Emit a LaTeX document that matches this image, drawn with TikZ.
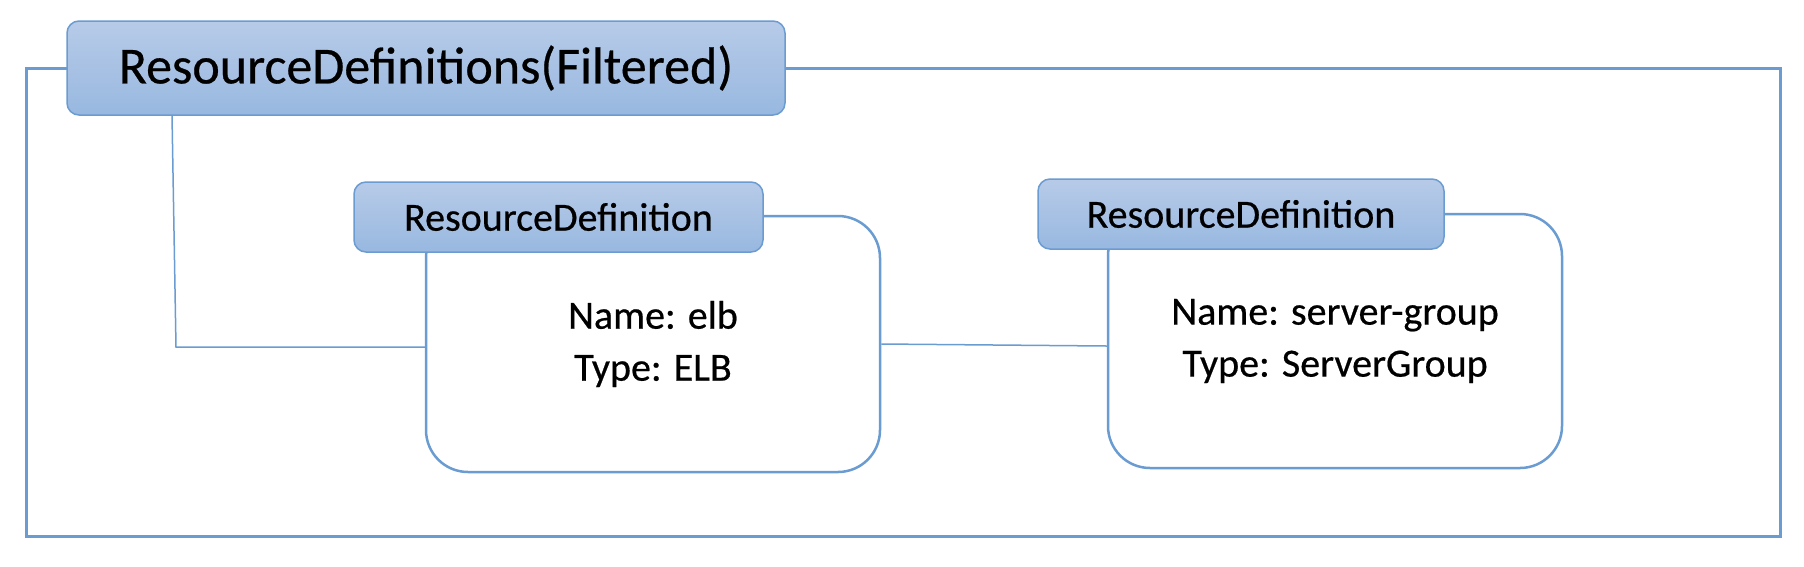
\documentclass[tikz,border=0pt]{standalone}
\usepackage{fontspec}
\setmainfont{Carlito}[FakeBold=0.5]
\definecolor{edge}{HTML}{6A9BD1}
\definecolor{topblue}{HTML}{B7CBE8}
\definecolor{botblue}{HTML}{98B8E0}
\tikzset{
  hdr/.style={draw=edge, line width=1.5pt, rounded corners=12pt, top color=topblue, bottom color=botblue, inner sep=0pt, text=black},
  bodybox/.style={draw=edge, line width=2.5pt, rounded corners=42pt, fill=white, inner sep=0pt, align=center, font=\fontsize{40}{52}\selectfont},
  link/.style={draw=edge, line width=1.5pt},
  frame/.style={draw=edge, line width=3pt}
}
\begin{document}
\begin{tikzpicture}[x=1pt,y=-1pt]
\useasboundingbox (0,0) rectangle (1804,566);
\draw[frame] (26,68) rectangle (1780,536);
\node[bodybox, minimum width=454pt, minimum height=256pt] (body1) at (653,344) {Name: elb\\Type: ELB};
\node[bodybox, minimum width=454pt, minimum height=254pt] (body2) at (1335,341) {Name: server-group\\Type: ServerGroup};
\node[hdr, minimum width=718pt, minimum height=94pt, font=\fontsize{52}{60}\selectfont] (title) at (426,68) {ResourceDefinitions(Filtered)};
\node[hdr, minimum width=409pt, minimum height=70pt, font=\fontsize{40}{48}\selectfont] (hdr1) at (558.5,217) {ResourceDefinition};
\node[hdr, minimum width=406pt, minimum height=70pt, font=\fontsize{40}{48}\selectfont] (hdr2) at (1241,214) {ResourceDefinition};
\coordinate (start) at (172,115);
\coordinate (bend) at (176,347);
\draw[link] (start) -- (bend) -- (bend -| body1.west);
\draw[link] ([yshift=0pt]body1.east) -- ([yshift=-2pt]body1.east -| body2.west);
\end{tikzpicture}
\end{document}
